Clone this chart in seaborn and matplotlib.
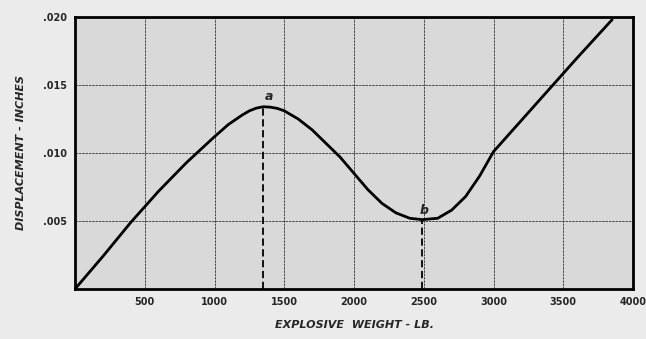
import pandas as pd
import matplotlib
matplotlib.use('Agg')
import matplotlib.pyplot as plt
import seaborn as sns

# values
weight = [0, 200, 400, 600, 800, 1000, 1100, 1200, 1250, 1300, 1350, 1400, 1450, 1500,
          1600, 1700, 1800, 1900, 2000, 2100, 2200, 2300, 2400, 2490, 2600, 2700, 2800,
          2900, 2950, 3000, 3200, 3400, 3600, 3850]
displacement = [0, 0.0024, 0.0049, 0.0072, 0.0093, 0.0112, 0.0121, 0.0128, 0.0131, 0.0133,
                0.0134, 0.01337, 0.01328, 0.0131, 0.0125, 0.0117, 0.0107, 0.0097, 0.0085,
                0.0073, 0.0063, 0.0056, 0.0052, 0.0051, 0.0052, 0.0058, 0.0068, 0.0083,
                0.0092, 0.0101, 0.0124, 0.0147, 0.0170, 0.0198]

peak_x, peak_y = 1350, 0.0134
trough_x, trough_y = 2490, 0.0051

x_ticks = [500, 1000, 1500, 2000, 2500, 3000, 3500, 4000]
x_labels = ['500', '1000', '1500', '2000', '2500', '3000', '3500', '4000']
y_ticks = [0.005, 0.010, 0.015, 0.020]
y_labels = ['.005', '.010', '.015', '.020']

df = pd.DataFrame({'weight': weight, 'disp': displacement})

sns.set_style('white')
plt.rcParams['font.family'] = ['DejaVu Sans']

fig = plt.figure(figsize=(6.46, 3.39), dpi=100, facecolor='#ebebeb')
ax = fig.add_axes([0.1161, 0.1475, 0.8638, 0.8024])
ax.set_facecolor('#d9d9d9')

sns.lineplot(data=df, x='weight', y='disp', color='black', linewidth=2.0, ax=ax)

# dashed drop lines at a and b
ax.plot([peak_x, peak_x], [0, peak_y], color='black', linestyle=(0, (4, 2)), linewidth=1.3)
ax.plot([trough_x, trough_x], [0, trough_y], color='black', linestyle=(0, (4, 2)), linewidth=1.3)
ax.text(peak_x + 40, peak_y + 0.0003, 'a', fontsize=9, fontstyle='italic',
        fontweight='bold', ha='center', va='bottom')
ax.text(trough_x + 10, trough_y + 0.0002, 'b', fontsize=9, fontstyle='italic',
        fontweight='bold', ha='center', va='bottom')

ax.set_xlim(0, 4000)
ax.set_ylim(0, 0.020)
ax.set_xticks(x_ticks)
ax.set_xticklabels(x_labels, fontsize=7, fontweight='bold')
ax.set_yticks(y_ticks)
ax.set_yticklabels(y_labels, fontsize=7, fontweight='bold')
ax.tick_params(length=0, pad=6)
ax.grid(True, color='#333333', linewidth=0.6, linestyle=(0, (3, 1)))

for s in ax.spines.values():
    s.set_color('black')
    s.set_linewidth(2.0)

ax.set_xlabel('EXPLOSIVE  WEIGHT - LB.', fontsize=8, fontstyle='italic',
              fontweight='bold', labelpad=9)
ax.set_ylabel('DISPLACEMENT - INCHES', fontsize=8, fontstyle='italic',
              fontweight='bold', labelpad=12)

fig.savefig('out.png', dpi=100, facecolor=fig.get_facecolor())
